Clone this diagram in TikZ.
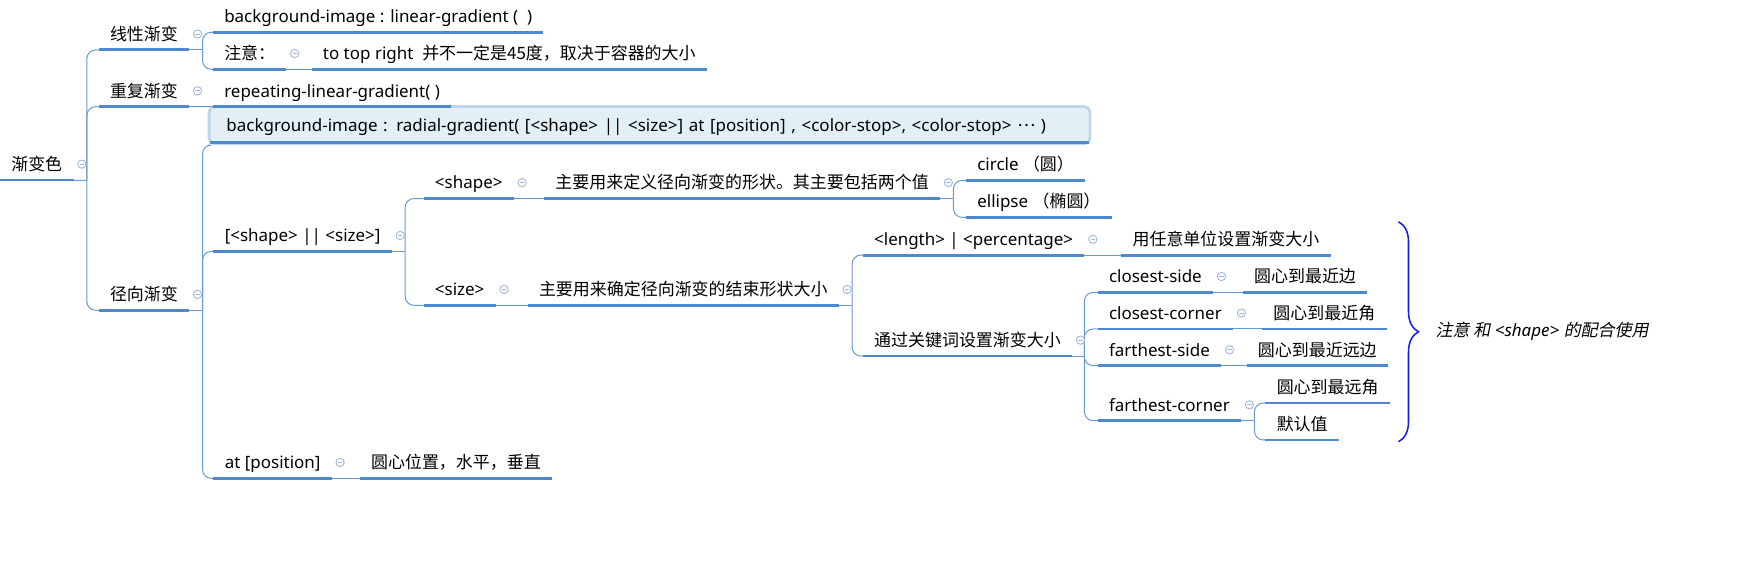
\documentclass[tikz,border=0pt]{standalone}
\usepackage{fontspec}
\setmainfont{Noto Sans}
\newfontfamily\cjk{Noto Sans CJK SC}
\newfontfamily\cjkit{Noto Sans CJK SC}[FakeSlant=0.2]
\usepackage{tikz}
\usetikzlibrary{decorations.pathreplacing,calc}
\definecolor{ulinec}{RGB}{78,137,207}
\definecolor{linkc}{RGB}{104,152,214}
\definecolor{foldc}{RGB}{160,182,226}
\definecolor{boxfill}{RGB}{226,239,245}
\definecolor{boxline}{RGB}{192,214,232}
\definecolor{bracec}{RGB}{28,28,232}
\newcommand{\mapfont}{\fontsize{15.3pt}{18pt}\selectfont}
\tikzset{topic/.style={anchor=south west, inner xsep=10pt, inner ysep=3pt, text height=12pt, text depth=5.5pt, font=\mapfont}}
\tikzset{cn/.style={topic, font=\mapfont\cjk}}
\tikzset{uline/.style={ulinec, line width=2.6pt}}
\tikzset{link/.style={linkc, line width=0.9pt}}
\tikzset{branch/.style={link, rounded corners=8pt}}
\tikzset{fold/.style={circle, draw=foldc, fill=white, line width=0.8pt, inner sep=0pt, minimum size=7.5pt,
  path picture={\draw[foldc, line width=0.8pt] ([xshift=-2pt]path picture bounding box.center) -- ([xshift=2pt]path picture bounding box.center);}}}
\tikzset{selbox/.style={draw=boxline, fill=boxfill, line width=2.5pt, rounded corners=5pt}}
\tikzset{bracket/.style={decorate, decoration={brace, amplitude=18pt}, bracec, line width=1.4pt}}

\begin{document}
\begin{tikzpicture}[x=1pt, y=-1pt]
\useasboundingbox (0,0) rectangle (1568,517);

\node (root) at (0,162.3)[cn]{渐变色};
\node (lin) at (89,45)[cn]{线性渐变};
\node (rep) at (89,96.2)[cn]{重复渐变};
\node (rad) at (89,279.8)[cn]{径向渐变};

\node (linbg) at (192,29.1)[topic]{background-image : linear-gradient ( \ )};
\node (linnote) at (192,62.5)[cn]{注意：};
\node (linnotetxt) at (281,62.5)[topic]{to top right\ \ {\cjk 并不一定是45度，取决于容器的大小}};
\node (repfn) at (192,96.2)[topic]{repeating-linear-gradient( )};

\node (radbox) at (187.3,130.8)[topic, selbox, text width=763pt, align=left, text height=17pt, inner ysep=5.5pt, inner xsep=15.6pt]{background-image : radial-gradient( [<shape> || <size>] at [position] , <color-stop>, <color-stop> {\cjk\raisebox{.3em}{…}} )};
\node (radsyn) at (192.5,226.6)[topic]{[<shape> || <size>]};
\node (radat) at (192.5,431.3)[topic]{at [position]};
\node (radattxt) at (324.4,431.3)[cn]{圆心位置，水平，垂直};

\node (shp) at (382,179)[topic]{<shape>};
\node (shptxt) at (490.6,179)[cn]{主要用来定义径向渐变的形状。其主要包括两个值};
\node (shpcirc) at (871,162.6)[topic]{circle {\cjk （圆）}};
\node (shpell) at (871,196)[topic]{ellipse {\cjk （椭圆）}};

\node (siz) at (382,275.3)[topic]{<size>};
\node (siztxt) at (475.8,275.3)[cn]{主要用来确定径向渐变的结束形状大小};
\node (sizlen) at (778,230)[topic]{<length> | <percentage>};
\node (sizlentxt) at (1011,230)[cn]{用任意单位设置渐变大小};
\node (sizkey) at (778,321)[cn]{通过关键词设置渐变大小};

\node (cside) at (989.8,263.6)[topic]{closest-side};
\node (csidetxt) at (1120.6,263.6)[cn]{圆心到最近边};
\node (ccorn) at (989.8,296.6)[topic]{closest-corner};
\node (ccorntxt) at (1138,296.6)[cn]{圆心到最近角};
\node (fside) at (989.8,329.7)[topic]{farthest-side};
\node (fsidetxt) at (1124,329.7)[cn]{圆心到最近远边};
\node (fcorn) at (989.8,379.3)[topic]{farthest-corner};
\node (fcornfar) at (1141,363.4)[cn]{圆心到最远角};
\node (fcorndef) at (1141,396.7)[cn]{默认值};

% underlines
\foreach \n in {root,lin,rep,rad,linbg,linnote,linnotetxt,repfn,radsyn,radat,radattxt,shp,shptxt,shpcirc,shpell,
  siz,siztxt,sizlen,sizlentxt,sizkey,cside,csidetxt,ccorn,ccorntxt,fside,fsidetxt,fcorn,fcornfar,fcorndef}
  \draw[uline] (\n.south west) -- (\n.south east);
\draw[uline] ([xshift=2pt,yshift=2pt]radbox.south west) -- ([xshift=-2pt,yshift=2pt]radbox.south east);

% one child
\draw[link] (rep.south east) -- (repfn.south west);
\draw[link] (linnote.south east) -- (linnotetxt.south west);
\draw[link] (radat.south east) -- (radattxt.south west);
\draw[link] (shp.south east) -- (shptxt.south west);
\draw[link] (siz.south east) -- (siztxt.south west);
\draw[link] (sizlen.south east) -- (sizlentxt.south west);
\draw[link] (cside.south east) -- (csidetxt.south west);
\draw[link] (ccorn.south east) -- (ccorntxt.south west);
\draw[link] (fside.south east) -- (fsidetxt.south west);

% several children
\draw[link] (root.south east) -- ++(12pt,0) coordinate (rootbr);
\foreach \c in {lin,rep,rad} \draw[branch] (rootbr) |- (\c.south west);
\draw[link] (lin.south east) -- ++(12pt,0) coordinate (linbr);
\foreach \c in {linbg,linnote} \draw[branch] (linbr) |- (\c.south west);
\draw[link] (rad.south east) -- ++(12pt,0) coordinate (radbr);
\foreach \c in {radbox,radsyn,radat} \draw[branch] (radbr) |- (\c.south west);
\draw[link] (radsyn.south east) -- ++(12pt,0) coordinate (synbr);
\foreach \c in {shp,siz} \draw[branch] (synbr) |- (\c.south west);
\draw[link] (shptxt.south east) -- ++(12pt,0) coordinate (shpbr);
\foreach \c in {shpcirc,shpell} \draw[branch] (shpbr) |- (\c.south west);
\draw[link] (siztxt.south east) -- ++(12pt,0) coordinate (sizbr);
\foreach \c in {sizlen,sizkey} \draw[branch] (sizbr) |- (\c.south west);
\draw[link] (sizkey.south east) -- ++(11pt,0) coordinate (keybr);
\foreach \c in {cside,ccorn,fside,fcorn} \draw[branch] (keybr) |- (\c.south west);
\draw[link] (fcorn.south east) -- ++(12pt,0) coordinate (fcornbr);
\foreach \c in {fcornfar,fcorndef} \draw[branch] (fcornbr) |- (\c.south west);

% collapse marks
\foreach \n in {root,lin,rep,rad,linnote,radsyn,radat,shp,shptxt,siz,siztxt,sizlen,sizkey,cside,ccorn,fside,fcorn}
  \node[fold] (fold\n) at ([xshift=7.5pt,yshift=14.3pt]\n.south east){};

\coordinate (bracetop) at (1261,200);
\coordinate (bracebot) at (1261,398.3);
\draw[bracket] (bracetop) -- (bracebot);
\node (bracenote) at (1291,298.5)[anchor=west, font=\mapfont]{{\cjkit 注意 和} \textit{<shape>} {\cjkit 的配合使用}};
\end{tikzpicture}
\end{document}
